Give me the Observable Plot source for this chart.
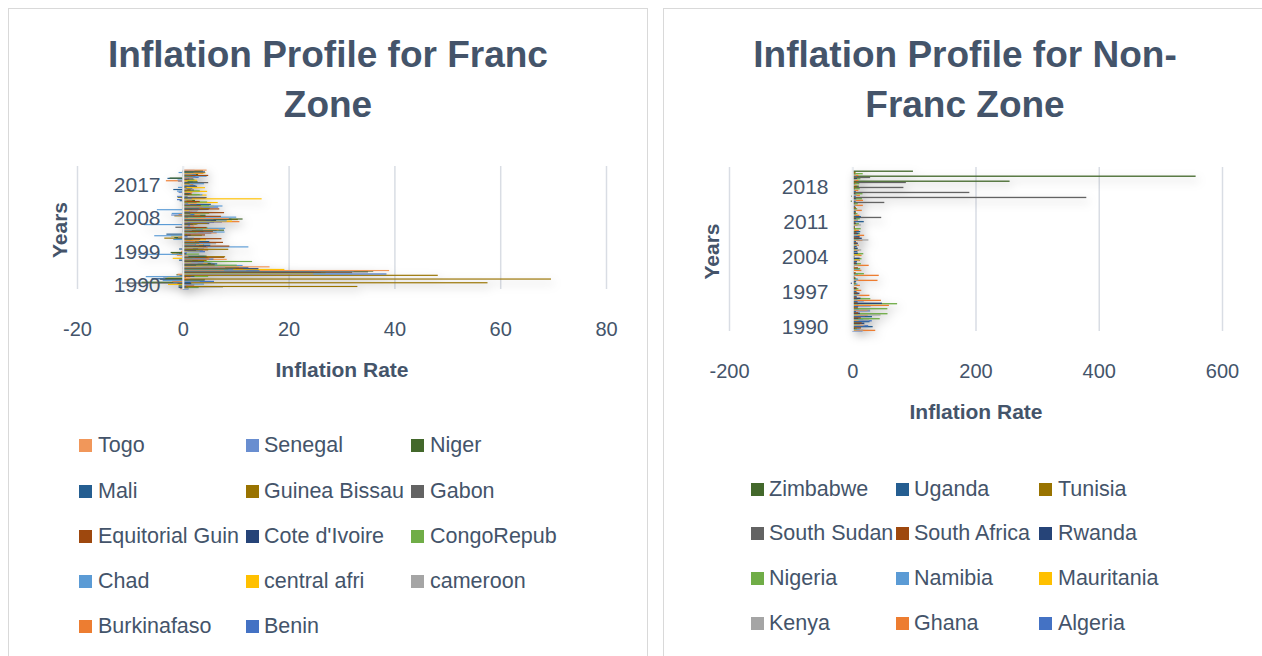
<!DOCTYPE html>
<html><head><meta charset="utf-8">
<script src="https://cdn.jsdelivr.net/npm/d3@7"></script>
<script src="https://cdn.jsdelivr.net/npm/@observablehq/plot@0.6"></script>
<style>
body{margin:0;background:#fff;width:1262px;height:656px;overflow:hidden;position:relative;font-family:"Liberation Sans",Arial,sans-serif;}
.card{position:absolute;top:8px;height:700px;border:1px solid #d9d9d9;background:#fff;}
.title{position:absolute;text-align:center;font-weight:bold;color:#44546A;font-size:37px;line-height:50px;white-space:nowrap;}
.chart{position:absolute;}
.lt{position:absolute;font-size:21.5px;color:#44546A;white-space:nowrap;line-height:24px;height:24px;}
.sw{position:absolute;width:13px;height:13px;}
</style></head><body>
<div class="card" style="left:8px;width:638px"></div>
<div class="card" style="left:663px;width:620px"></div>
<div class="title" style="left:8px;width:640px;top:30px">Inflation Profile for Franc<br>Zone</div>
<div class="title" style="left:663px;width:604px;top:30px">Inflation Profile for Non-<br>Franc Zone</div>
<div class="chart" id="chartL" style="left:0px;top:150px"></div>
<div class="chart" id="chartR" style="left:663px;top:150px"></div>
<div id="legend"></div>
<script>
// ---------- Franc zone (1990-2021) ----------
const francYears = [1990,1991,1992,1993,1994,1995,1996,1997,1998,1999,2000,2001,2002,2003,2004,2005,2006,2007,2008,2009,2010,2011,2012,2013,2014,2015,2016,2017,2018,2019,2020,2021];
const francLabelYears = [1990, 1999, 2008, 2017];
const francTicks = [-20, 0, 20, 40, 60, 80];
const francNames = ["Benin","Burkinafaso","cameroon","central afri","Chad","CongoRepub","Cote d'Ivoire","Equitorial Guin","Gabon","Guinea Bissau","Mali","Niger","Senegal","Togo"];
const francColors = ["#4472C4","#ED7D31","#A5A5A5","#FFC000","#5B9BD5","#70AD47","#264478","#9E480E","#636363","#997300","#255E91","#43682B","#698ED0","#F1975A"];

const benin      = [1.1,2.1,5.9,0.4,38.5,14.5,4.9,3.8,5.8,0.3, 4.2,4.0,2.5,1.5,0.9,5.4,3.8,1.3,7.4,0.4, 2.2,2.7,6.7,1.0,-1.1,0.2,-0.8,1.8,0.8,-0.9, 3.0,1.7];
const burkina    = [-0.5,2.2,-2.0,0.6,24.7,7.8,6.1,2.3,5.0,-1.1, -0.3,4.7,2.3,2.0,-0.4,6.4,2.4,-0.2,10.7,0.9, -0.8,2.8,3.8,0.5,-0.3,0.9,-0.2,0.4,2.0,-3.2, 1.9,3.9];
const cameroon   = [1.1,0.6,3.2,-3.7,12.7,12.0,6.6,5.2,0.0,2.9, 0.9,2.8,6.3,0.6,0.3,2.0,4.9,1.1,5.3,3.0, 1.3,2.9,2.4,2.1,1.9,2.7,0.9,0.6,1.1,2.5, 2.4,2.3];
const centralAfr = [-0.2,-2.8,-0.8,-2.9,24.6,19.2,3.7,1.6,-1.9,-1.4, 3.2,3.8,2.3,4.4,-2.2,2.9,6.7,0.9,9.3,3.5, 1.5,1.2,5.9,6.6,14.9,4.5,4.6,4.2,1.6,2.7, 0.9,4.3];
const chad       = [-0.6,4.0,-3.8,-7.0,32.0,9.5,11.3,5.6,4.3,-8.4, 3.8,12.4,5.2,-1.8,-5.4,7.9,8.0,-7.4,8.3,10.1, -2.1,-4.9,7.5,0.2,1.7,3.7,-1.1,-0.9,4.0,-1.0, 4.5,-0.8];
const congo      = [3.0,-0.7,4.0,4.8,27.0,8.6,10.2,13.1,1.8,3.1, 0.4,0.8,3.1,1.7,3.6,2.5,4.7,2.6,6.0,4.3, 5.0,1.8,5.0,4.6,0.9,3.2,3.2,0.4,1.2,2.2, 1.8,2.0];
const coteIvoire = [-0.8,1.6,4.2,2.2,26.1,14.3,2.5,4.0,4.7,0.7, 2.5,4.4,3.1,3.3,1.5,3.9,2.5,1.9,6.3,1.0, 1.4,4.9,1.3,2.6,0.4,1.2,0.7,0.7,0.4,0.8, 2.4,4.2];
const eqGuinea   = [1.0,-1.0,1.0,1.6,32.0,11.4,6.0,3.0,7.8,0.4, 4.8,8.8,7.6,7.3,4.2,5.7,4.5,2.8,4.3,7.2, 7.8,6.9,3.4,3.2,4.3,1.7,1.4,0.7,1.3,1.2, 4.8,-0.1];
const gabon      = [7.6,-11.5,-4.3,0.5,35.0,10.0,4.5,4.1,2.3,-0.7, 0.5,2.1,0.2,2.1,0.4,1.2,-1.4,5.0,5.3,1.9, 1.4,1.3,2.7,0.5,4.5,0.1,2.1,2.7,4.8,2.0, 1.3,1.1];
const guineaBis  = [33.0,57.6,69.6,48.2,15.2,8.2,6.0,4.5,8.0,-2.1, 8.6,3.3,3.3,-3.5,0.8,3.3,0.7,4.6,10.4,-1.6, 1.1,5.1,2.1,0.8,-1.0,1.5,1.5,1.1,0.4,0.3, 1.5,3.3];
const mali       = [0.6,1.5,-5.9,-0.6,24.8,12.4,6.5,-0.7,4.1,-1.2, -0.7,5.2,5.0,-1.3,-3.1,6.4,1.5,1.4,9.2,2.2, 1.3,3.1,5.3,-0.6,0.9,1.4,-1.8,2.4,1.9,-2.9, 0.5,3.8];
const niger      = [-0.8,-7.8,-3.3,-1.2,36.0,10.6,5.3,2.9,4.5,-2.3, 2.9,4.0,2.6,-1.6,0.4,7.8,0.0,0.1,11.3,4.3, 0.8,2.9,0.5,2.3,-0.9,1.0,0.2,0.2,2.8,-2.5, 2.9,3.8];
const senegal    = [0.3,-1.8,0.1,-0.6,32.3,8.0,2.8,1.8,1.1,0.8, 0.7,3.1,2.3,0.0,0.5,1.7,2.1,5.9,5.8,-2.2, 1.2,3.4,1.4,0.7,-1.1,0.1,0.8,1.3,0.5,1.0, 2.5,2.2];
const togo       = [1.0,0.4,1.4,-1.0,39.0,16.4,4.7,8.3,1.0,-0.1, 1.9,3.9,3.1,-0.9,0.4,6.8,2.2,0.9,8.7,3.3, 1.8,3.6,2.6,1.8,0.2,1.8,0.9,-0.2,0.9,0.7, 1.8,4.5];
const francSeries = [benin,burkina,cameroon,centralAfr,chad,congo,coteIvoire,eqGuinea,gabon,guineaBis,mali,niger,senegal,togo];

// ---------- Non-Franc zone (1990-2021) ----------
const nonFrancYears = [1990,1991,1992,1993,1994,1995,1996,1997,1998,1999,2000,2001,2002,2003,2004,2005,2006,2007,2008,2009,2010,2011,2012,2013,2014,2015,2016,2017,2018,2019,2020,2021];
const nonFrancLabelYears = [1990, 1997, 2004, 2011, 2018];
const nonFrancTicks = [-200, 0, 200, 400, 600];
const nonFrancNames = ["Algeria","Ghana","Kenya","Mauritania","Namibia","Nigeria","Rwanda","South Africa","South Sudan","Tunisia","Uganda","Zimbabwe"];
const nonFrancColors = ["#4472C4","#ED7D31","#A5A5A5","#FFC000","#5B9BD5","#70AD47","#264478","#9E480E","#636363","#997300","#255E91","#43682B"];

const algeria    = [16.7,25.9,31.7,20.5,29.0,29.8,18.7,5.7,5.0,2.6, 0.3,4.2,1.4,4.3,4.0,1.4,2.3,3.7,4.9,5.7, 3.9,4.5,8.9,3.3,2.9,4.8,6.4,5.6,4.3,2.0, 2.4,7.2];
const ghana      = [37.3,18.0,10.1,25.0,24.9,59.5,46.6,27.9,14.6,12.4, 41.0,43.0,14.8,26.7,12.6,15.1,10.9,10.7,16.5,19.3, 10.7,8.7,9.2,11.6,15.5,17.2,17.5,12.4,9.8,7.1, 9.9,10.0];
const kenya      = [17.8,20.1,27.3,46.0,28.8,1.6,9.0,11.4,6.7,5.7, 10.0,5.7,2.0,9.8,11.6,10.3,14.5,9.8,26.2,9.2, 4.0,14.0,9.4,5.7,6.9,6.6,6.3,8.0,4.7,5.2, 5.4,6.1];
const mauritania = [6.6,5.6,10.1,9.3,4.1,6.6,4.7,4.5,8.0,4.1, 3.3,4.7,3.9,5.4,10.4,12.1,6.2,7.3,7.3,2.2, 6.3,5.7,4.9,4.1,3.5,0.5,1.5,2.3,3.1,2.3, 2.4,3.6];
const namibia    = [12.0,11.9,17.7,8.6,10.8,10.0,8.0,8.8,6.2,8.6, 9.3,9.3,11.3,7.2,4.1,2.3,5.1,6.7,10.4,8.8, 4.5,5.0,6.7,5.6,5.4,3.4,6.7,6.1,4.3,3.7, 2.2,3.6];
const nigeria    = [7.4,13.0,44.6,57.2,57.0,72.8,29.3,8.5,10.0,6.6, 6.9,18.9,12.9,14.0,15.0,17.9,8.2,5.4,11.6,12.5, 13.7,10.8,12.2,8.5,8.0,9.0,15.7,16.5,12.1,11.4, 13.2,17.0];
const rwanda     = [4.2,19.6,9.6,12.4,null,48.2,13.4,11.7,6.8,-2.4, 3.9,3.4,2.0,7.4,12.0,9.1,8.8,9.1,15.4,10.3, 2.3,5.7,6.3,4.2,1.8,2.5,5.7,4.8,1.4,2.4, 7.7,0.8];
const southAfrica= [14.3,15.3,13.9,9.7,9.0,8.7,7.4,8.6,6.9,5.2, 5.3,5.7,9.2,5.9,1.4,3.4,4.6,7.1,11.5,7.1, 4.3,5.0,5.7,5.8,6.1,4.5,6.6,5.2,4.5,4.1, 3.3,4.6];
const southSudan = [null,null,null,null,null,null,null,null,null,null, null,null,null,null,null,null,null,null,null,null, null,null,47.0,0.0,1.7,52.0,379.8,190.0,83.0,87.0, 29.0,null];
const tunisia    = [6.5,8.2,5.8,4.0,4.7,6.2,3.7,3.7,3.1,2.7, 3.0,1.9,2.7,2.7,3.6,2.0,4.5,3.4,4.9,3.5, 4.4,3.5,5.1,5.8,4.9,4.9,3.6,5.3,7.3,6.7, 5.6,5.7];
const uganda     = [33.1,28.1,32.0,6.1,9.7,8.6,7.2,6.9,0.0,6.4, 2.8,2.0,-0.3,7.8,3.3,8.4,7.3,6.1,12.0,13.0, 4.0,18.7,14.0,5.5,4.3,5.2,5.5,5.6,2.6,2.9, 3.8,2.2];
const zimbabwe   = [null,null,null,null,null,null,null,null,null,null, null,null,null,null,null,null,null,null,null,6.2, 3.0,3.5,3.7,1.6,-0.2,-2.4,-1.6,0.9,10.6,255.3, 557.2,98.5];
const nonFrancSeries = [algeria,ghana,kenya,mauritania,namibia,nigeria,rwanda,southAfrica,southSudan,tunisia,uganda,zimbabwe];

// ---------- helpers ----------
const FONT = "'Liberation Sans', Arial, sans-serif";
function buildRows(years, names, series) {
  const rows = [];
  years.forEach((yr, i) => names.forEach((n, j) => {
    const v = series[j][i];
    if (v != null) rows.push({key: yr + "|" + n, year: yr, country: n, value: v});
  }));
  return rows;
}
function buildDomain(years, names) {
  const d = [];
  for (const yr of [...years].reverse()) for (const n of [...names].reverse()) d.push(yr + "|" + n);
  return d;
}
function makeChart(c) {
  const rows = buildRows(c.years, c.names, c.series);
  const domain = buildDomain(c.years, c.names);
  const mid = c.names[Math.floor(c.names.length / 2)];
  const tickKeys = c.labelYears.map(y => y + "|" + mid);
  const svg = Plot.plot({
    width: c.width, height: c.height,
    marginLeft: c.ml, marginRight: c.mr, marginTop: c.mt, marginBottom: c.mb,
    style: {fontFamily: FONT, fontSize: "20px", color: "#44546A", background: "transparent", overflow: "visible"},
    x: {domain: c.xDomain},
    y: {type: "band", domain, padding: 0},
    color: {domain: c.names, range: c.colors},
    marks: [
      Plot.ruleX(c.xTicks, {stroke: "#d9dde4", strokeWidth: 1.5, insetTop: -4}),
      Plot.barX(rows, {x1: 0, x2: "value", y: "key", fill: "country", insetTop: -0.45, insetBottom: -0.45}),
      Plot.ruleX([0], {stroke: "#e9ecf0", strokeWidth: 2, insetTop: -4}),
      Plot.axisX({ticks: c.xTicks, tickFormat: d => String(d), tickSize: 0, tickPadding: 32, label: null, fontSize: 20}),
      Plot.axisY({ticks: tickKeys, tickFormat: k => k.split("|")[0], tickSize: 0, tickPadding: 0, dx: c.ydx, dy: -2, label: null, fontSize: 21}),
      Plot.text(["Inflation Rate"], {text: d => d, frameAnchor: "bottom", dy: c.xtDy, fontWeight: "bold", fontSize: 21}),
      Plot.text(["Years"], {text: d => d, frameAnchor: "left", textAnchor: "middle", rotate: -90, dx: -17, fontWeight: "bold", fontSize: 21})
    ]
  });
  svg.querySelectorAll('g[aria-label="bar"]').forEach(g => g.style.filter = "drop-shadow(3px 4px 5px rgba(0,0,0,0.28))");
  return svg;
}

document.getElementById("chartL").append(makeChart({
  years: francYears, names: francNames, series: francSeries, colors: francColors,
  labelYears: francLabelYears, xTicks: francTicks, xDomain: [-20, 80],
  width: 646, height: 250, ml: 77, mr: 40, mt: 20, mb: 111, ydx: 83, xtDy: 87
}));
document.getElementById("chartR").append(makeChart({
  years: nonFrancYears, names: nonFrancNames, series: nonFrancSeries, colors: nonFrancColors,
  labelYears: nonFrancLabelYears, xTicks: nonFrancTicks, xDomain: [-200, 600],
  width: 599, height: 290, ml: 66, mr: 40, mt: 21, mb: 109, ydx: 99, xtDy: 87
}));

// ---------- legends (Excel lists bar-chart series in reverse order) ----------
function legend(names, colors, colX, textX, rowY) {
  const host = document.getElementById("legend");
  const order = names.map((n, i) => i).reverse();
  order.forEach((idx, k) => {
    const col = k % 3, row = Math.floor(k / 3);
    const sw = document.createElement("div");
    sw.className = "sw";
    sw.style.left = colX[col] + "px";
    sw.style.top = (rowY[row] - 6.5) + "px";
    sw.style.background = colors[idx];
    const t = document.createElement("div");
    t.className = "lt";
    t.style.left = textX[col] + "px";
    t.style.top = (rowY[row] - 12) + "px";
    t.textContent = names[idx];
    host.append(sw, t);
  });
}
legend(francNames, francColors, [79, 246, 411], [98, 264, 430], [445, 491, 536, 581, 626]);
legend(nonFrancNames, nonFrancColors, [751, 896, 1039], [769, 914, 1058], [489, 533, 578, 623]);
</script>
</body></html>
